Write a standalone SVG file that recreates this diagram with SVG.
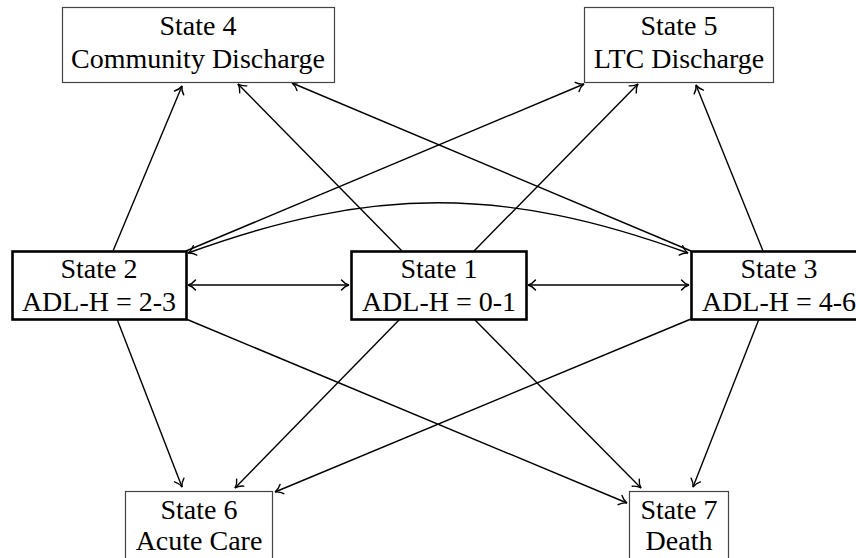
<svg xmlns="http://www.w3.org/2000/svg" width="856" height="558" viewBox="0 0 856 558">
  <defs>
    <style>
      .main { fill: #fff; stroke: #000; stroke-width: 2.6; }
      .out { fill: #fff; stroke: #444; stroke-width: 1.2; }
      .edge { fill: none; stroke: #000; stroke-width: 1.4; }
    </style>
    <marker id="tip" markerUnits="userSpaceOnUse" viewBox="-10 -7 12 14" refX="0" refY="0" markerWidth="12" markerHeight="14" orient="auto-start-reverse">
      <path d="M -7.5,-5 C -5,-2 -2,-0.5 0,0 C -2,0.5 -5,2 -7.5,5" fill="none" stroke="#000" stroke-width="1.4" stroke-linecap="round"/>
    </marker>
  </defs>
  <rect width="856" height="558" fill="#fff"/>

  <!-- transitions -->
  <g id="connectors" class="edge">
    <line x1="113" y1="251" x2="182" y2="86" marker-end="url(#tip)"/>
    <line x1="402" y1="251" x2="238" y2="84" marker-end="url(#tip)"/>
    <line x1="691" y1="251" x2="292" y2="83" marker-end="url(#tip)"/>
    <line x1="186" y1="251" x2="584" y2="84" marker-end="url(#tip)"/>
    <line x1="474" y1="251" x2="638" y2="84" marker-end="url(#tip)"/>
    <line x1="763" y1="251" x2="696" y2="85" marker-end="url(#tip)"/>
    <line x1="188" y1="285" x2="349" y2="285" marker-start="url(#tip)" marker-end="url(#tip)"/>
    <line x1="528" y1="285" x2="689" y2="285" marker-start="url(#tip)" marker-end="url(#tip)"/>
    <path d="M 188,253 C 372,186 504,186 688,253" marker-start="url(#tip)" marker-end="url(#tip)"/>
    <line x1="117" y1="319" x2="182" y2="487" marker-end="url(#tip)"/>
    <line x1="400" y1="319" x2="235" y2="488" marker-end="url(#tip)"/>
    <line x1="691" y1="319" x2="275" y2="492" marker-end="url(#tip)"/>
    <line x1="186" y1="319" x2="627" y2="503" marker-end="url(#tip)"/>
    <line x1="474" y1="319" x2="641" y2="488" marker-end="url(#tip)"/>
    <line x1="759" y1="319" x2="693" y2="487" marker-end="url(#tip)"/>
  </g>

  <g id="state4" font-family="Liberation Serif" font-size="28" text-anchor="middle">
    <rect class="out" x="62.5" y="7.5" width="272" height="75"/>
    <text x="198" y="35" font-family="Liberation Serif" style="font-family: Liberation Serif, serif">State 4</text>
    <text x="198" y="68" font-family="Liberation Serif" style="font-family: Liberation Serif, serif">Community Discharge</text>
  </g>
  <g id="state5" font-family="Liberation Serif" font-size="28" text-anchor="middle">
    <rect class="out" x="584.5" y="7.5" width="189" height="75"/>
    <text x="679" y="35" font-family="Liberation Serif" style="font-family: Liberation Serif, serif">State 5</text>
    <text x="679" y="68" font-family="Liberation Serif" style="font-family: Liberation Serif, serif">LTC Discharge</text>
  </g>
  <g id="state2" font-family="Liberation Serif" font-size="28" text-anchor="middle">
    <rect class="main" x="12.5" y="251.5" width="174" height="68"/>
    <text x="99" y="278" font-family="Liberation Serif" style="font-family: Liberation Serif, serif">State 2</text>
    <text x="99" y="311" font-family="Liberation Serif" style="font-family: Liberation Serif, serif">ADL-H = 2-3</text>
  </g>
  <g id="state1" font-family="Liberation Serif" font-size="28" text-anchor="middle">
    <rect class="main" x="351.5" y="251.5" width="175" height="68"/>
    <text x="439" y="278" font-family="Liberation Serif" style="font-family: Liberation Serif, serif">State 1</text>
    <text x="439" y="311" font-family="Liberation Serif" style="font-family: Liberation Serif, serif">ADL-H = 0-1</text>
  </g>
  <g id="state3" font-family="Liberation Serif" font-size="28" text-anchor="middle">
    <rect class="main" x="691.5" y="251.5" width="175" height="68"/>
    <text x="779" y="278" font-family="Liberation Serif" style="font-family: Liberation Serif, serif">State 3</text>
    <text x="779" y="311" font-family="Liberation Serif" style="font-family: Liberation Serif, serif">ADL-H = 4-6</text>
  </g>
  <g id="state6" font-family="Liberation Serif" font-size="28" text-anchor="middle">
    <rect class="out" x="125.5" y="491.5" width="147" height="75"/>
    <text x="199" y="519" font-family="Liberation Serif" style="font-family: Liberation Serif, serif">State 6</text>
    <text x="199" y="550" font-family="Liberation Serif" style="font-family: Liberation Serif, serif">Acute Care</text>
  </g>
  <g id="state7" font-family="Liberation Serif" font-size="28" text-anchor="middle">
    <rect class="out" x="629.5" y="491.5" width="99" height="75"/>
    <text x="679" y="519" font-family="Liberation Serif" style="font-family: Liberation Serif, serif">State 7</text>
    <text x="679" y="550" font-family="Liberation Serif" style="font-family: Liberation Serif, serif">Death</text>
  </g>
</svg>
